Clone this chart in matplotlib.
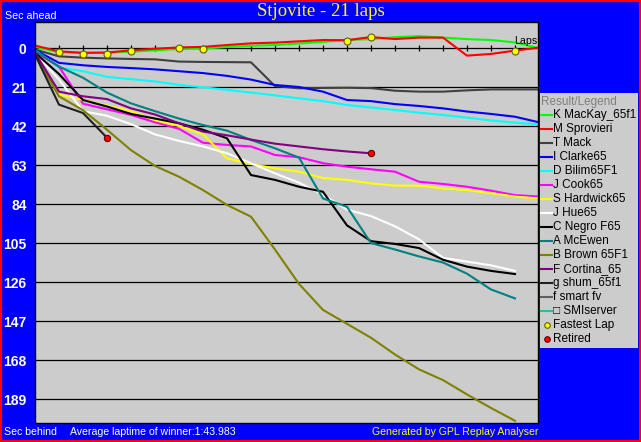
import matplotlib.pyplot as plt
from matplotlib.lines import Line2D
from matplotlib.patches import Rectangle

# legend order, names and colours
drivers = ['K MacKay_65f1', 'M Sprovieri', 'T Mack', 'I Clarke65', 'D Bilim65F1',
           'J Cook65', 'S Hardwick65', 'J Hue65', 'C Negro F65', 'A McEwen',
           'B Brown 65F1', 'F Cortina_65', 'g shum_65f1', 'f smart fv', '\u25a1 SMIserver']
colors = ['#00FF00', '#FF0000', '#404040', '#0000FF', '#00FFFF',
          '#FF00FF', '#FFFF00', '#FFFFFF', '#000000', '#008080',
          '#808000', '#800080', '#202020', '#606060', '#20C0A0']

# seconds behind the winner's average pace, one value per lap (lap 0 = start)
mackay = [-0.6, 2.3, 2.7, 2.4, 2.0, 1.3, 0.5, 0.3, -0.5, -1.2, -1.6, -2.4, -3.3, -4.3,
          -4.8, -5.8, -6.4, -5.6, -4.8, -4.3, -3.0, 0.1]
sprovieri = [-1.3, 1.8, 2.6, 2.5, 1.2, 0.4, -0.3, -0.6, -1.6, -2.5, -2.9, -3.6, -4.3, -4.2,
             -5.9, -4.8, -5.6, -5.6, 4.1, 3.2, 1.4, -0.2]
mack = [0.8, 4.5, 5.2, 5.6, 5.9, 6.1, 7.3, 7.5, 7.6, 7.7, 20.5, 21.7, 21.5, 21.4, 21.6,
        23.0, 23.5, 23.5, 22.8, 22.3, 22.3, 22.3]
clarke = [1.0, 8.0, 9.3, 10.2, 10.8, 11.5, 12.5, 13.5, 15.0, 17.0, 19.9, 21.0, 23.5, 28.0,
          28.6, 30.2, 31.2, 32.5, 34.2, 35.5, 37.0, 40.0]
bilim = [1.2, 10.5, 12.5, 15.5, 16.8, 18.0, 19.8, 21.2, 22.5, 24.0, 25.5, 27.1, 28.6, 30.7,
         32.0, 33.4, 34.8, 36.0, 37.5, 39.0, 40.2, 41.1]
cook = [2.0, 10.0, 30.0, 33.0, 36.0, 40.0, 43.5, 51.0, 52.2, 53.0, 57.6, 58.8, 62.0, 63.9,
        65.3, 66.6, 72.0, 73.2, 74.7, 76.8, 79.2, 80.0]
hardwick = [3.0, 25.0, 28.0, 31.0, 34.0, 38.8, 42.0, 46.5, 59.4, 62.5, 64.8, 66.6, 70.0,
            71.0, 72.9, 74.1, 74.1, 75.6, 76.5, 78.2, 80.0, 81.0]
hue = [3.0, 17.0, 34.0, 36.5, 41.0, 46.5, 50.0, 53.0, 56.7, 62.0, 67.5, 72.5, 79.0, 87.0,
       90.5, 96.0, 103.0, 113.0, 115.0, 117.0, 120.0]
negro = [2.5, 14.0, 28.0, 31.5, 35.5, 38.0, 40.5, 44.0, 48.6, 68.4, 71.0, 74.7, 77.4, 95.5,
         104.0, 105.5, 107.7, 114.0, 117.7, 120.0, 121.7]
mcewen = [1.5, 10.0, 16.0, 24.0, 29.8, 34.0, 38.0, 41.5, 44.5, 49.5, 54.0, 59.0, 81.0, 85.5,
          105.0, 108.5, 112.2, 115.5, 121.5, 130.0, 134.8]
brown = [3.5, 26.0, 33.5, 44.0, 55.0, 63.5, 69.3, 76.5, 84.5, 90.8, 108.5, 127.0, 141.0,
         148.5, 156.0, 165.0, 173.0, 178.8, 186.5, 193.8, 200.7]
cortina = [2.5, 23.5, 26.0, 27.5, 32.5, 35.8, 40.5, 45.0, 47.0, 49.3, 51.5, 53.0, 54.5,
           55.7, 56.7]
shum = [3.5, 30.5, 35.0, 48.3]
smart = []
smiserver = []

series = [mackay, sprovieri, mack, clarke, bilim, cook, hardwick, hue, negro, mcewen,
          brown, cortina, shum, smart, smiserver]

fastest_laps = [1, 2, 3, 4, 6, 7, 13, 14, 20]
fastest_vals = [2.0, 3.2, 3.2, 1.4, -0.2, 0.4, -3.9, -6.1, 1.4]
retired_laps = [3, 14]
retired_vals = [48.3, 56.7]

yticks = [0, 21, 42, 63, 84, 105, 126, 147, 168, 189]
total_laps = 21

W, H = 641, 442
def fx(px):
    return px / W
def fy(py):
    return 1 - py / H

fig = plt.figure(figsize=(W / 100, H / 100), dpi=100, facecolor='#0000FF')
ax = fig.add_axes([fx(35), fy(423), fx(538) - fx(35), fy(22) - fy(423)])
ax.set_facecolor('#CCCCCC')
ax.set_xlim(0, 20.96)
ax.set_ylim(201.9, -14)

for v in yticks:
    ax.axhline(v, color='black', lw=0.9, zorder=1)
ax.vlines(range(1, total_laps + 1), -1.6, 1.6, color='black', lw=0.9, zorder=1)

for vals, c in zip(series, colors):
    if vals:
        ax.plot(range(len(vals)), vals, color=c, lw=1.5, zorder=2)

ax.plot(fastest_laps, fastest_vals, 'o', ms=5, mfc='#FFFF00', mec='#606000', mew=0.8, zorder=3)
ax.plot(retired_laps, retired_vals, 'o', ms=4.5, mfc='#FF0000', mec='#600000', mew=0.8, zorder=3)

ax.set_xticks([])
ax.set_yticks(yticks)
ax.set_yticklabels([str(v) for v in yticks], color='white', fontweight='bold',
                   fontsize=10, fontfamily='Liberation Sans')
ax.tick_params(axis='y', length=0, pad=6)
for s in ax.spines.values():
    s.set_color('black')
    s.set_linewidth(1)

# titles and footer
fig.text(fx(321), fy(12), 'Stjovite - 21 laps', color='#FFFF00', fontsize=13.5,
         family='Liberation Serif', ha='center', va='center')
fig.text(fx(5), fy(16), 'Sec ahead', color='white', fontsize=7.7,
         family='Liberation Sans', va='center')
fig.text(fx(537), fy(41), 'Laps', color='black', fontsize=7.7,
         family='Liberation Sans', ha='right', va='center')
fig.text(fx(4), fy(432), 'Sec behind', color='white', fontsize=7.6,
         family='Liberation Sans', va='center')
fig.text(fx(70), fy(432), 'Average laptime of winner:1:43.983', color='white', fontsize=7.6,
         family='Liberation Sans', va='center')
fig.text(fx(538), fy(432), 'Generated by GPL Replay Analyser', color='#FFFF00', fontsize=7.6,
         family='Liberation Sans', ha='right', va='center')

# legend panel
fig.patches.append(Rectangle((fx(540), fy(348)), fx(638) - fx(540), fy(93) - fy(348),
                             transform=fig.transFigure, facecolor='#CCCCCC', edgecolor='none'))
fig.text(fx(541), fy(102), 'Result/Legend', color='#808080', fontsize=8.5,
         family='Liberation Sans', va='center')
for i, (name, c) in enumerate(zip(drivers, colors)):
    y = 115 + i * 14
    fig.lines.append(Line2D([fx(541), fx(552)], [fy(y), fy(y)], color=c, lw=1.5,
                            transform=fig.transFigure))
    fig.text(fx(553), fy(y), name, color='black', fontsize=8.5,
             family=['Liberation Sans', 'DejaVu Sans'], va='center')
n = len(drivers)
for j, (name, fc, ec) in enumerate([('Fastest Lap', '#FFFF00', '#606000'),
                                    ('Retired', '#FF0000', '#600000')]):
    y = 115 + (n + j) * 14
    fig.lines.append(Line2D([fx(546.5)], [fy(y)], marker='o', ms=4, mfc=fc, mec=ec,
                            mew=0.8, transform=fig.transFigure))
    fig.text(fx(553), fy(y), name, color='black', fontsize=8.5,
             family='Liberation Sans', va='center')

# red outer frame
fig.patches.append(Rectangle((0, 0), 1, 1, transform=fig.transFigure, fill=False,
                             edgecolor='#FF0000', lw=3))

fig.savefig('out.png', dpi=100, facecolor=fig.get_facecolor())
